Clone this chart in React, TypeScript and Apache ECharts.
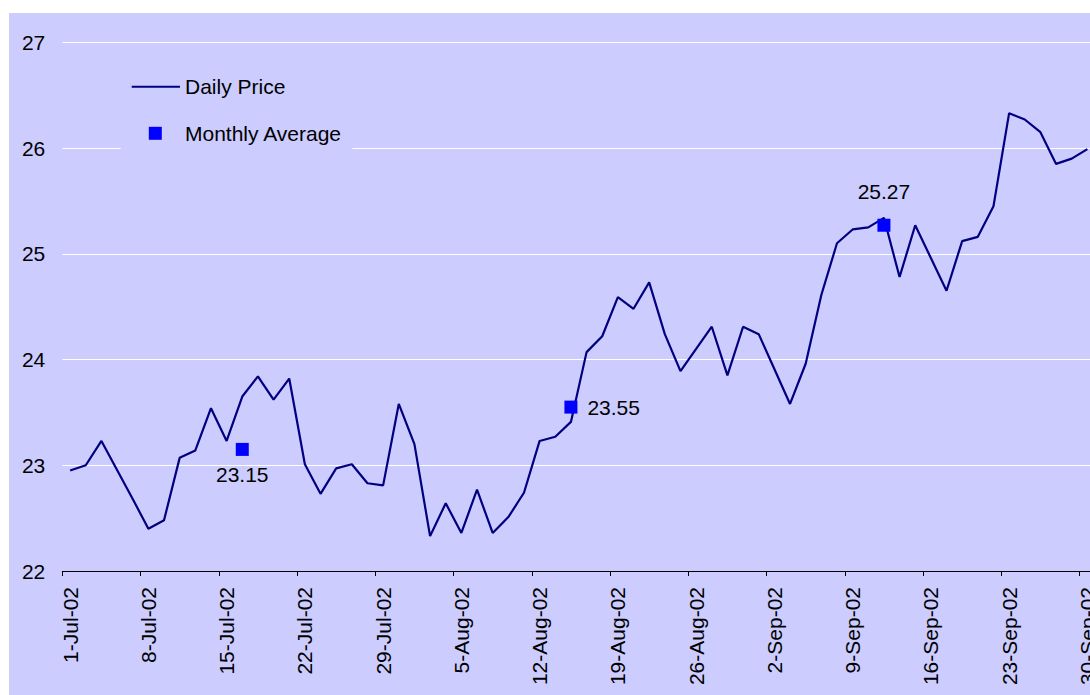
import React, { useEffect, useRef } from "react";
import * as echarts from "echarts";

const dates: string[] = [
  "1-Jul-02", "2-Jul-02", "3-Jul-02", "4-Jul-02", "5-Jul-02",
  "8-Jul-02", "9-Jul-02", "10-Jul-02", "11-Jul-02", "12-Jul-02",
  "15-Jul-02", "16-Jul-02", "17-Jul-02", "18-Jul-02", "19-Jul-02",
  "22-Jul-02", "23-Jul-02", "24-Jul-02", "25-Jul-02", "26-Jul-02",
  "29-Jul-02", "30-Jul-02", "31-Jul-02", "1-Aug-02", "2-Aug-02",
  "5-Aug-02", "6-Aug-02", "7-Aug-02", "8-Aug-02", "9-Aug-02",
  "12-Aug-02", "13-Aug-02", "14-Aug-02", "15-Aug-02", "16-Aug-02",
  "19-Aug-02", "20-Aug-02", "21-Aug-02", "22-Aug-02", "23-Aug-02",
  "26-Aug-02", "27-Aug-02", "28-Aug-02", "29-Aug-02", "30-Aug-02",
  "2-Sep-02", "3-Sep-02", "4-Sep-02", "5-Sep-02", "6-Sep-02",
  "9-Sep-02", "10-Sep-02", "11-Sep-02", "12-Sep-02", "13-Sep-02",
  "16-Sep-02", "17-Sep-02", "18-Sep-02", "19-Sep-02", "20-Sep-02",
  "23-Sep-02", "24-Sep-02", "25-Sep-02", "26-Sep-02", "27-Sep-02",
  "30-Sep-02",
];

const dailyPrice: (number | null)[] = [
  22.95, 23.0, 23.23, null, 22.68,
  22.4, 22.48, 23.07, 23.14, 23.54,
  23.23, 23.65, 23.84, 23.62, 23.82,
  23.01, 22.73, 22.97, 23.01, 22.83,
  22.81, 23.58, 23.2, 22.33, 22.64,
  22.36, 22.77, 22.36, 22.51, 22.74,
  23.23, 23.27, 23.41, 24.07, 24.22,
  24.59, 24.48, 24.73, 24.24, 23.89,
  24.1, 24.31, 23.85, 24.31, 24.24,
  null, 23.58, 23.96, 24.61, 25.1,
  25.23, 25.25, 25.34, 24.78, 25.27,
  24.96, 24.65, 25.12, 25.16, 25.45,
  26.33, 26.27, 26.15, 25.85, 25.9,
  25.99,
];

const avgDates: string[] = ["16-Jul-02", "14-Aug-02", "11-Sep-02"];
const avgValues: number[] = [23.15, 23.55, 25.27];

const seriesNames: string[] = ["Daily Price", "Monthly Average"];

const FONT = "'Liberation Sans', Arial, sans-serif";

export default function App() {
  const ref = useRef<HTMLDivElement>(null);

  useEffect(() => {
    if (!ref.current) return;
    const chart = echarts.init(ref.current, undefined, { renderer: "svg" });

    const labelCfg = [
      { position: "bottom", distance: 8 },
      { position: "right", distance: 10 },
      { position: "top", distance: 17 },
    ];

    chart.setOption({
      animation: false,
      backgroundColor: "#CCCCFF",
      textStyle: { fontFamily: FONT },
      grid: { left: 53.3, top: 29.3, width: 1032.9, height: 528.7, containLabel: false },
      xAxis: {
        type: "category",
        data: dates,
        boundaryGap: true,
        axisLine: { show: true, lineStyle: { color: "#000", width: 1 } },
        axisTick: { show: true, interval: 4, length: 5, lineStyle: { color: "#000", width: 1 } },
        axisLabel: {
          interval: 4,
          rotate: 90,
          margin: 16,
          fontSize: 21,
          color: "#000",
          fontFamily: FONT,
        },
        splitLine: { show: false },
      },
      yAxis: {
        type: "value",
        min: 22,
        max: 27,
        interval: 1,
        axisLine: { show: false },
        axisTick: { show: false },
        axisLabel: { fontSize: 21, color: "#000", margin: 17, fontFamily: FONT },
        splitLine: { show: true, lineStyle: { color: "#FFFFFF", width: 1 } },
      },
      series: [
        {
          name: seriesNames[0],
          type: "line",
          data: dailyPrice,
          symbol: "none",
          connectNulls: true,
          lineStyle: { color: "#000080", width: 2.2 },
          itemStyle: { color: "#000080" },
          z: 2,
        },
        {
          name: seriesNames[1],
          type: "scatter",
          symbol: "rect",
          symbolSize: 13,
          itemStyle: { color: "#0000FF", opacity: 1 },
          z: 3,
          data: avgDates.map((d, i) => ({
            value: [d, avgValues[i]],
            label: {
              show: true,
              position: labelCfg[i].position,
              distance: labelCfg[i].distance,
              formatter: avgValues[i].toFixed(2),
              fontSize: 21,
              color: "#000",
              opacity: 1,
              fontFamily: FONT,
            },
          })),
        },
      ],
      graphic: [
        {
          type: "rect",
          z: 10,
          shape: { x: 111.7, y: 47, width: 231.6, height: 98 },
          style: { fill: "#CCCCFF" },
        },
        {
          type: "line",
          z: 11,
          shape: { x1: 122.7, y1: 73.7, x2: 171, y2: 73.7 },
          style: { stroke: "#000080", lineWidth: 2 },
        },
        {
          type: "text",
          z: 11,
          x: 176,
          y: 73.7,
          style: {
            text: seriesNames[0],
            fontSize: 21,
            fontFamily: FONT,
            fill: "#000",
            verticalAlign: "middle",
            align: "left",
          },
        },
        {
          type: "rect",
          z: 11,
          shape: { x: 139.8, y: 113.8, width: 13, height: 13 },
          style: { fill: "#0000FF" },
        },
        {
          type: "text",
          z: 11,
          x: 176,
          y: 120.3,
          style: {
            text: seriesNames[1],
            fontSize: 21,
            fontFamily: FONT,
            fill: "#000",
            verticalAlign: "middle",
            align: "left",
          },
        },
      ],
    });

    return () => chart.dispose();
  }, []);

  return (
    <div
      style={{
        position: "fixed",
        left: 9,
        top: 13,
        width: 1081,
        height: 682,
        overflow: "hidden",
        background: "#CCCCFF",
      }}
    >
      <div ref={ref} style={{ width: 1100, height: 682 }} />
    </div>
  );
}
